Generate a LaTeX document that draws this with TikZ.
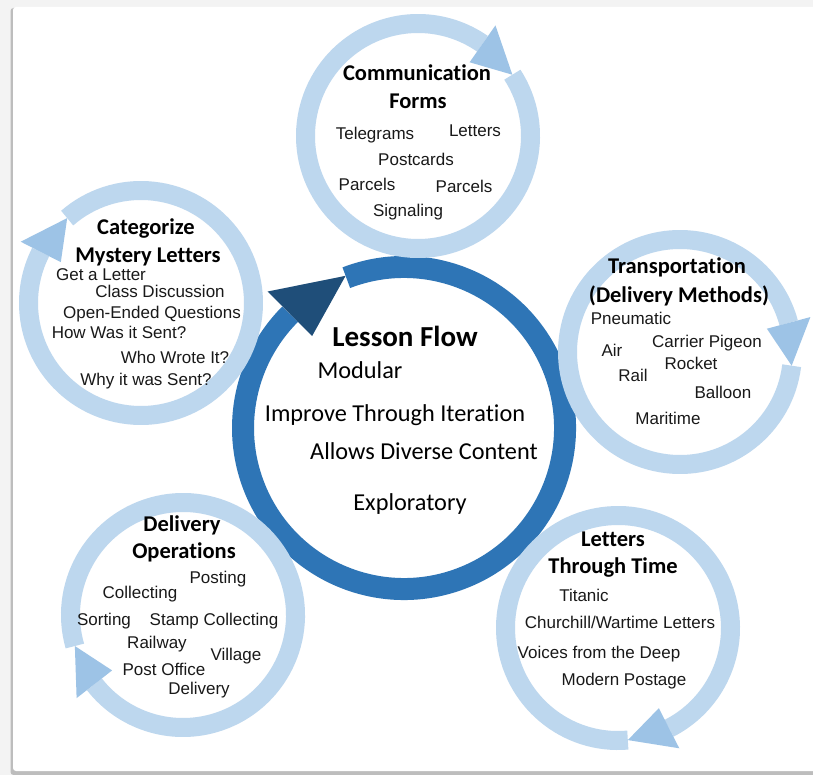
\documentclass[tikz,border=0pt]{standalone}
\usepackage{fontspec}
\setmainfont{Liberation Sans}
\newfontfamily\carlito[Ligatures=NoCommon]{Carlito}
\usetikzlibrary{calc}
\definecolor{lightring}{HTML}{BDD7EE}
\definecolor{lighthead}{HTML}{9DC3E6}
\definecolor{darkring}{HTML}{2E75B6}
\definecolor{darkhead}{HTML}{1F4E79}
\definecolor{bggray}{HTML}{F3F3F3}
\definecolor{shadowgray}{HTML}{BDBDBD}
\newcommand\ttlfont{\carlito\bfseries\fontsize{22.5}{27}\selectfont}
\newcommand\itmfont{\fontsize{17}{20}\selectfont}
\newcommand\cntfont{\carlito\fontsize{24.3}{29}\selectfont}
\newcommand\cnttitlefont{\carlito\bfseries\fontsize{29}{35}\selectfont}
\newcommand\lightring[3]{%
  \pgfmathsetmacro\tbase{#3-22}%
  \pgfmathsetmacro\tend{#3+338}%
  \draw[lring] ($(#1,#2)+(#3:112.5)$) arc[start angle=#3, end angle=\tend, radius=112.5];
  \fill[lighthead] ($(#1,#2)+(\tbase:90)$) -- ($(#1,#2)+(\tbase:135)$) -- ($(#1,#2)+(#3:112.5)$) -- cycle;
}
\tikzset{
  lring/.style={line width=19pt, draw=lightring},
  dring/.style={line width=22pt, draw=darkring},
  ttl/.style={font=\ttlfont, anchor=base, inner sep=0pt, text=black},
  itm/.style={font=\itmfont, anchor=base, inner sep=0pt, text=black!90},
  cnt/.style={font=\cntfont, anchor=base, inner sep=0pt, text=black},
  cntt/.style={font=\cnttitlefont, anchor=base, inner sep=0pt, text=black},
}
\begin{document}
\begin{tikzpicture}[x=1pt, y=-1pt]
\useasboundingbox (0,0) rectangle (813,775);
% background and panel
\fill[bggray] (0,0) rectangle (813,775);
\fill[shadowgray, rounded corners=3pt] (10.5,8) rectangle (830,775);
\fill[white, rounded corners=3pt] (13,7) rectangle (830,771);

% central dark ring
\draw[dring] ($(404,428)+(-111:161)$) arc[start angle=-111, end angle=225, radius=161];
\fill[darkhead] ($(404,428)+(-135:130)$) -- ($(404,428)+(-135:193)$) -- ($(404,428)+(-111:163)$) -- cycle;

% outer light rings
\lightring{418}{136}{-33}
\lightring{680}{352}{7}
\lightring{618}{628}{85}
\lightring{183}{615}{164}
\lightring{141}{303}{229}

% Communication Forms
\node[ttl] (cf1) at (417,81) {Communication};
\node[ttl] (cf2) at (418,109) {Forms};
\node[itm] (cfa) at (375,140) {Telegrams};
\node[itm] (cfb) at (475,137) {Letters};
\node[itm] (cfc) at (416,166) {Postcards};
\node[itm] (cfd) at (367,191) {Parcels};
\node[itm] (cfe) at (464,193) {Parcels};
\node[itm] (cff) at (408,217) {Signaling};

% Transportation
\node[ttl] (tr1) at (677,274) {Transportation};
\node[ttl] (tr2) at (679,302) {(Delivery Methods)};
\node[itm] (tra) at (631,324) {Pneumatic};
\node[itm] (trb) at (707,347) {Carrier Pigeon};
\node[itm] (trc) at (612,356) {Air};
\node[itm] (trd) at (691,369) {Rocket};
\node[itm] (tre) at (633,381) {Rail};
\node[itm] (trf) at (723,398) {Balloon};
\node[itm] (trg) at (668,424) {Maritime};

% Categorize Mystery Letters
\node[ttl] (cm1) at (146,235) {Categorize};
\node[ttl] (cm2) at (148,263) {Mystery Letters};
\node[itm] (cma) at (101,281) {Get a Letter};
\node[itm] (cmb) at (160,298) {Class Discussion};
\node[itm] (cmc) at (152,318) {Open-Ended Questions};
\node[itm] (cmd) at (119,338) {How Was it Sent?};
\node[itm] (cme) at (175,363) {Who Wrote It?};
\node[itm] (cmf) at (146,385) {Why it was Sent?};

% Delivery Operations
\node[ttl] (do1) at (182,531) {Delivery};
\node[ttl] (do2) at (184,558) {Operations};
\node[itm] (doa) at (218,583) {Posting};
\node[itm] (dob) at (140,598) {Collecting};
\node[itm] (doc) at (104,625) {Sorting};
\node[itm] (dod) at (214,625) {Stamp Collecting};
\node[itm] (doe) at (157,648) {Railway};
\node[itm] (dof) at (236,660) {Village};
\node[itm] (dog) at (164,675) {Post Office};
\node[itm] (doh) at (199,694) {Delivery};

% Letters Through Time
\node[ttl] (lt1) at (613,546) {Letters};
\node[ttl] (lt2) at (613,573) {Through Time};
\node[itm] (lta) at (584,601) {Titanic};
\node[itm] (ltb) at (620,628) {Churchill/Wartime Letters};
\node[itm] (ltc) at (599,658) {Voices from the Deep};
\node[itm] (ltd) at (624,685) {Modern Postage};

% Lesson Flow
\node[cntt] (lf0) at (405,346) {Lesson Flow};
\node[cnt] (lfa) at (360,378) {Modular};
\node[cnt] (lfb) at (395,421) {Improve Through Iteration};
\node[cnt] (lfc) at (424,459) {Allows Diverse Content};
\node[cnt] (lfd) at (410,510) {Exploratory};
\end{tikzpicture}
\end{document}
